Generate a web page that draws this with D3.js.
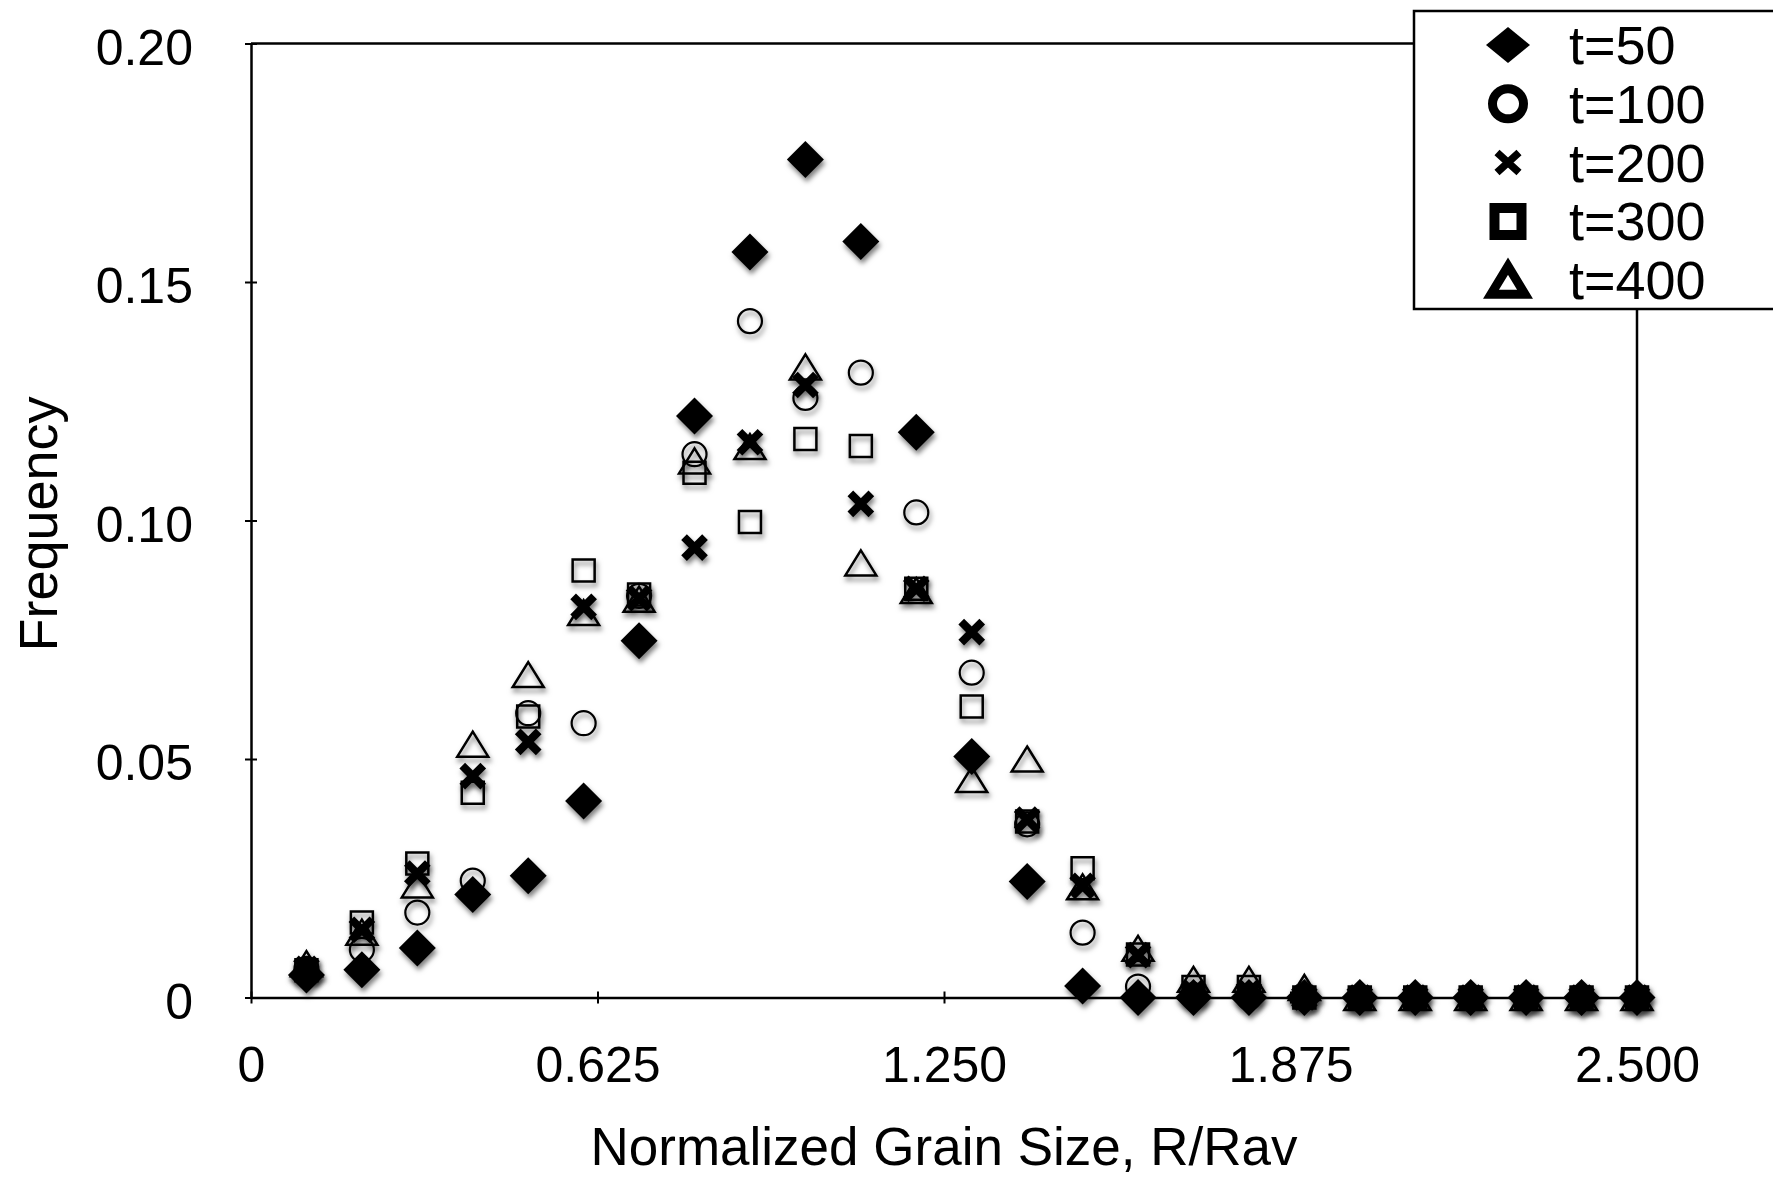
<!DOCTYPE html>
<html>
<head>
<meta charset="utf-8">
<script src="https://cdn.jsdelivr.net/npm/d3@7"></script>
<style>
  html, body { margin: 0; padding: 0; background: #fff; }
  svg { display: block; font-family: "Liberation Sans", Arial, sans-serif; }
</style>
</head>
<body>
<svg id="chart" width="1773" height="1179"></svg>
<script>
// Normalized grain size bins (R/Rav)
const grainSize = [0.1, 0.2, 0.3, 0.4, 0.5, 0.6, 0.7, 0.8, 0.9, 1.0, 1.1, 1.2, 1.3,
                   1.4, 1.5, 1.6, 1.7, 1.8, 1.9, 2.0, 2.1, 2.2, 2.3, 2.4, 2.5];

// Frequency of each bin at successive time steps
const freqT50  = [0.0047, 0.0058, 0.0104, 0.0216, 0.0255, 0.0412, 0.0748, 0.1219, 0.1563, 0.1757, 0.1585, 0.1185, 0.0505,
                  0.0243, 0.0024, 0, 0, 0, 0, 0, 0, 0, 0, 0, 0];
const freqT100 = [0.0060, 0.0100, 0.0178, 0.0245, 0.0596, 0.0575, 0.0842, 0.1139, 0.1418, 0.1257, 0.1310, 0.1017, 0.0681,
                  0.0363, 0.0136, 0.0023, 0.0005, 0, 0, 0, 0, 0, 0, 0, 0];
const freqT200 = [0.0060, 0.0142, 0.0260, 0.0464, 0.0536, 0.0819, 0.0837, 0.0943, 0.1164, 0.1284, 0.1035, 0.0857, 0.0766,
                  0.0373, 0.0234, 0.0089, 0.0010, 0.0010, 0, 0, 0, 0, 0, 0, 0];
const freqT300 = [0.0057, 0.0157, 0.0281, 0.0429, 0.0589, 0.0895, 0.0845, 0.1100, 0.0997, 0.1171, 0.1156, 0.0857, 0.0610,
                  0.0369, 0.0271, 0.0090, 0.0022, 0.0022, 0, 0, 0, 0, 0, 0, 0];
const freqT400 = [0.0071, 0.0137, 0.0236, 0.0531, 0.0677, 0.0807, 0.0835, 0.1125, 0.1155, 0.1322, 0.0911, 0.0853, 0.0457,
                  0.0500, 0.0232, 0.0103, 0.0038, 0.0038, 0.0021, 0, 0, 0, 0, 0, 0];

const seriesNames = ["t=50", "t=100", "t=200", "t=300", "t=400"];
const seriesShapes = ["diamond", "circle", "cross", "square", "triangle"];

const xTicks = [0, 0.625, 1.25, 1.875, 2.5];
const xTickLabels = ["0", "0.625", "1.250", "1.875", "2.500"];
const yTicks = [0, 0.05, 0.10, 0.15, 0.20];
const yTickLabels = ["0", "0.05", "0.10", "0.15", "0.20"];

const xTitle = "Normalized Grain Size, R/Rav";
const yTitle = "Frequency";

const seriesValues = [freqT50, freqT100, freqT200, freqT300, freqT400];

const svg = d3.select("#chart");

// drop shadow used under the plotted markers
const defs = svg.append("defs");
const f = defs.append("filter").attr("id", "markShadow")
  .attr("x", "-60%").attr("y", "-60%").attr("width", "220%").attr("height", "220%");
f.append("feDropShadow").attr("dx", 1.5).attr("dy", 4).attr("stdDeviation", 2.6)
  .attr("flood-color", "#000").attr("flood-opacity", 0.5);

const plot = { left: 251, right: 1637, top: 43.5, bottom: 997.5 };
const x = d3.scaleLinear().domain([0, 2.5]).range([plot.left, plot.right]);
const y = d3.scaleLinear().domain([0, 0.2]).range([plot.bottom, plot.top]);

// frame: top and right edges
svg.append("line").attr("x1", plot.left).attr("x2", plot.right)
  .attr("y1", plot.top).attr("y2", plot.top)
  .attr("stroke", "#000").attr("stroke-width", 2.5);
svg.append("line").attr("x1", plot.right).attr("x2", plot.right)
  .attr("y1", plot.top).attr("y2", plot.bottom)
  .attr("stroke", "#000").attr("stroke-width", 2.5);

// x axis
const xAxis = svg.append("g").attr("transform", `translate(0,${plot.bottom})`)
  .call(d3.axisBottom(x).tickValues(xTicks)
    .tickFormat((d, i) => xTickLabels[i]).tickSizeOuter(0));
xAxis.select(".domain").attr("stroke-width", 2.5);
xAxis.selectAll(".tick line").attr("y1", -6).attr("y2", 6).attr("stroke-width", 2);
xAxis.selectAll(".tick text").attr("dy", null).attr("y", 84.5)
  .attr("font-size", 50).attr("fill", "#000")
  .attr("font-family", "Liberation Sans, Arial, sans-serif");

// y axis
const yAxis = svg.append("g").attr("transform", `translate(${plot.left},0)`)
  .call(d3.axisLeft(y).tickValues(yTicks)
    .tickFormat((d, i) => yTickLabels[i]).tickSizeOuter(0));
yAxis.select(".domain").attr("stroke-width", 2.5);
yAxis.selectAll(".tick line").attr("x1", -6).attr("x2", 6).attr("stroke-width", 2);
yAxis.selectAll(".tick text").attr("dy", null).attr("y", 20.5).attr("x", -58)
  .attr("font-size", 50).attr("fill", "#000")
  .attr("font-family", "Liberation Sans, Arial, sans-serif");

// axis titles
svg.append("text").attr("x", (plot.left + plot.right) / 2).attr("y", 1165)
  .attr("text-anchor", "middle").attr("font-size", 53).text(xTitle);
svg.append("text").attr("transform", "translate(57,524) rotate(-90)")
  .attr("text-anchor", "middle").attr("font-size", 54).text(yTitle);

// marker shapes for the plotted points
const plotShape = {
  diamond:  { d: "M0,-18.5L18.5,0L0,18.5L-18.5,0Z", fill: "#000", stroke: "none", sw: 0 },
  circle:   { d: "M12,0A12,12 0 1,1 -12,0A12,12 0 1,1 12,0Z", fill: "none", stroke: "#000", sw: 2.2 },
  cross:    { d: "M-10.5,-10.5L10.5,10.5M10.5,-10.5L-10.5,10.5", fill: "none", stroke: "#000", sw: 8 },
  square:   { d: "M-11,-11H11V11H-11Z", fill: "none", stroke: "#000", sw: 2.5 },
  triangle: { d: "M0,-12.5L15.5,12.5L-15.5,12.5Z", fill: "none", stroke: "#000", sw: 2.5 }
};

seriesValues.forEach((vals, si) => {
  const s = plotShape[seriesShapes[si]];
  svg.append("g").attr("filter", "url(#markShadow)")
    .selectAll("path").data(grainSize.map((g, i) => ({ g, v: vals[i] })))
    .join("path")
    .attr("transform", d => `translate(${x(d.g)},${y(d.v)})`)
    .attr("d", s.d)
    .attr("fill", s.fill)
    .attr("stroke", s.stroke)
    .attr("stroke-width", s.sw);
});

// legend
const legend = svg.append("g");
legend.append("rect").attr("x", 1414).attr("y", 11).attr("width", 420).attr("height", 298)
  .attr("fill", "#fff").attr("stroke", "#000").attr("stroke-width", 2.5);

const legendShape = {
  diamond:  { d: "M0,-18L22,0L0,18L-22,0Z", fill: "#000", stroke: "none", sw: 0 },
  circle:   { d: "M15.5,0A15.5,15 0 1,1 -15.5,0A15.5,15 0 1,1 15.5,0Z", fill: "none", stroke: "#000", sw: 9 },
  cross:    { d: "M-11,-10L11,10M11,-10L-11,10", fill: "none", stroke: "#000", sw: 7.5 },
  square:   { d: "M-13.5,-13.5H13.5V13.5H-13.5Z", fill: "none", stroke: "#000", sw: 10 },
  triangle: { d: "M0,-14L17,14L-17,14Z", fill: "none", stroke: "#000", sw: 9 }
};

seriesNames.forEach((name, i) => {
  const cy = 45 + i * 58.8;
  const s = legendShape[seriesShapes[i]];
  legend.append("path").attr("transform", `translate(1508,${cy})`)
    .attr("d", s.d).attr("fill", s.fill).attr("stroke", s.stroke)
    .attr("stroke-width", s.sw).attr("stroke-linejoin", "miter");
  legend.append("text").attr("x", 1569).attr("y", cy + 19)
    .attr("font-size", 54).text(name);
});
</script>
</body>
</html>
